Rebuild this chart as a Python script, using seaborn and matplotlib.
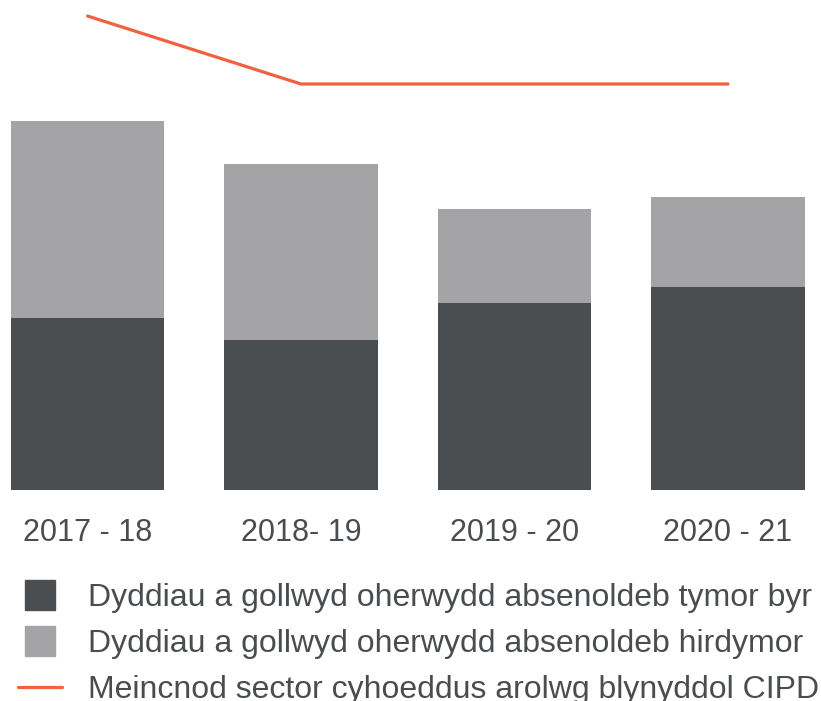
import matplotlib
matplotlib.use('Agg')
import matplotlib.pyplot as plt
from matplotlib.lines import Line2D
import seaborn as sns
import pandas as pd

# data (days lost)
years = ["2017 - 18", "2018- 19", "2019 - 20", "2020 - 21"]
short_term = [3.44, 3.00, 3.74, 4.06]
long_term = [3.94, 3.52, 1.88, 1.80]
benchmark = [9.48, 8.12, 8.12, 8.12]

labels = ["Dyddiau a gollwyd oherwydd absenoldeb tymor byr",
          "Dyddiau a gollwyd oherwydd absenoldeb hirdymor",
          "Meincnod sector cyhoeddus arolwg blynyddol CIPD"]

dark = "#4b4e51"
light = "#a4a4a6"
orange = "#f2613f"
text_col = "#4a4d50"

sns.set_style("white")
plt.rcParams['font.family'] = ['Liberation Sans', 'DejaVu Sans']

df = pd.DataFrame({"year": years, "short": short_term, "long": long_term})
df["total"] = df["short"] + df["long"]

fig = plt.figure(figsize=(8.21, 7.01), dpi=100)
ax = fig.add_axes([0, 0.301, 1, 0.699])

sns.barplot(data=df, x="year", y="total", color=light, width=0.72,
            saturation=1, linewidth=0, edgecolor="none", ax=ax)
sns.barplot(data=df, x="year", y="short", color=dark, width=0.72,
            saturation=1, linewidth=0, edgecolor="none", ax=ax)
sns.lineplot(x=list(range(len(years))), y=benchmark, color=orange,
             linewidth=2.3, sort=False, ax=ax)

ax.set_xlim(-0.41, 3.436)
ax.set_ylim(0, 9.8)
ax.set_xlabel("")
ax.set_ylabel("")
ax.set_yticks([])
ax.tick_params(axis="x", length=0, pad=20, labelsize=22, labelcolor=text_col)
sns.despine(ax=ax, left=True, bottom=True)

handles = [
    Line2D([], [], marker="s", markersize=21, linestyle="none", color=dark),
    Line2D([], [], marker="s", markersize=21, linestyle="none", color=light),
    Line2D([], [], color=orange, linewidth=2.3),
]
leg = fig.legend(handles, labels, loc="upper left",
                 bbox_to_anchor=(18 / 821, 1 - 583 / 701),
                 frameon=False, fontsize=23, handlelength=1.37,
                 handletextpad=0.82, labelspacing=0.5, borderpad=0,
                 borderaxespad=0, labelcolor=text_col)

plt.savefig("out.png", dpi=100)
plt.close()
